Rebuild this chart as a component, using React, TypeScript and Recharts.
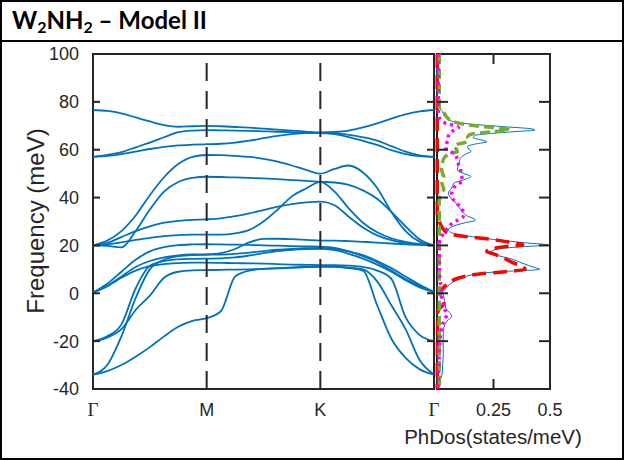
import React from 'react';
import { LineChart, Line, XAxis, YAxis, ReferenceLine, ReferenceArea } from 'recharts';

// ---------- band structure (k path Γ-M-K-Γ) ----------
const kPath = [0, 0.125, 0.25, 0.375, 0.5, 0.625, 0.75, 0.875, 1, 1.125, 1.25, 1.375, 1.5, 1.625, 1.75, 1.875, 2, 2.125, 2.25, 2.375, 2.5, 2.625, 2.75, 2.875, 3];
const kTicks = [0, 1, 2, 3];
const kLabels = ['Γ', 'M', 'K', 'Γ'];
const freqTicks = [-40, -20, 0, 20, 40, 60, 80, 100];

const bandA = [76.6, 76.2, 75.2, 73.5, 71.8, 70.3, 69.6, 69.8, 70.0, 69.8, 69.5, 69.2, 68.8, 68.4, 68.0, 67.6, 67.2, 67.4, 68.0, 69.3, 71.0, 73.0, 74.8, 76.0, 76.6];
const bandB = [57.0, 57.8, 59.0, 61.0, 63.0, 65.2, 67.3, 68.0, 68.2, 68.1, 68.0, 67.9, 67.7, 67.5, 67.3, 67.1, 66.9, 66.8, 66.2, 65.2, 63.8, 61.5, 59.2, 57.6, 57.0];
const bandC = [57.0, 57.4, 58.2, 59.2, 60.3, 61.2, 61.8, 62.1, 62.3, 62.5, 63.0, 63.8, 64.8, 65.8, 66.5, 66.9, 67.0, 66.5, 65.3, 63.7, 62.0, 59.8, 58.2, 57.3, 57.0];
const bandD = [20, 22, 26, 32.5, 41, 48.5, 54, 57, 57.8, 57.7, 57.4, 57.0, 56.2, 55.0, 53.4, 51.6, 50.0, 52.0, 53.4, 50.5, 44.0, 34.0, 26.0, 21.5, 20.0];
const bandE = [20, 19.8, 19.2, 26, 35, 42.5, 46.5, 48.2, 48.7, 48.6, 48.4, 48.2, 48.0, 47.7, 47.3, 47.0, 46.6, 46.3, 45.3, 43.0, 39.5, 34.0, 28.0, 22.5, 20.0];
const bandH = [20, 21, 23.5, 26, 28, 29.5, 30.3, 30.7, 30.9, 31.3, 32.2, 33.4, 34.8, 36.2, 37.3, 38.0, 38.3, 36.8, 32.0, 27.5, 24.2, 22.2, 21.0, 20.3, 20.0];
const bandI = [20, 20.4, 21.3, 22.3, 23.2, 23.9, 24.3, 24.5, 24.5, 24.5, 25.0, 26.5, 30.0, 35.0, 40.5, 43.8, 46.6, 42.5, 35.5, 29.5, 25.5, 23.0, 21.5, 20.5, 20.0];
const bandJ = [0.3, 4, 9, 14, 17.5, 19.3, 20.1, 20.4, 20.5, 20.4, 20.3, 20.2, 20.0, 19.9, 19.7, 19.6, 19.5, 19.0, 17.5, 15.5, 13.0, 9.5, 6.0, 3.0, 0.5];
const bandK = [0.3, 3, 7, 11, 13.5, 15, 15.8, 16.2, 16.3, 16.8, 18.5, 21.3, 22.7, 22.8, 22.6, 22.3, 22.0, 22.0, 21.8, 21.5, 21.2, 20.8, 20.5, 20.2, 20.0];
const bandL = [-20, -18, -13, 2, 11.5, 13.5, 14.2, 14.4, 14.5, 14.6, 15.0, 15.8, 16.8, 17.6, 18.2, 18.5, 18.6, 18.0, 16.5, 14.5, 12.0, 9.0, 5.5, 2.5, 0.5];
const bandM = [0.3, 3, 6.5, 9.5, 11.3, 12.2, 12.6, 12.8, 12.8, 12.7, 12.6, 12.5, 12.4, 12.2, 12.0, 11.9, 11.8, 11.8, 11.6, 11.0, 9.5, 6.0, -10.0, -17.5, -20.0];
const bandN = [-20, -18.5, -15, -7, -1, 6.5, 9, 9.6, 9.7, 9.8, 9.9, 10.0, 10.2, 10.4, 10.6, 10.9, 11.1, 11.0, 10.7, 10.0, 5.0, -5.0, -15.0, -28.0, -34.0];
const bandO = [-34, -32.5, -30, -26.5, -22.5, -18, -14, -11.5, -10.4, -7.5, 7.0, 9.5, 10.2, 10.5, 10.8, 11.1, 11.3, 11.2, 10.5, 9.5, -5.0, -19.0, -27.0, -31.8, -34.0];
const bandP = [-34, -30, -18, -2, 10, 14, 15.5, 16, 16.1, 16.2, 16.5, 17, 17.6, 18.2, 18.6, 18.9, 19.0, 18.6, 17.5, 16.0, 13.5, 10.5, 7.0, 3.5, 0.5];

const branches = [bandA, bandB, bandC, bandD, bandE, bandH, bandI, bandJ, bandK, bandL, bandM, bandN, bandO, bandP];

// ---------- phonon DOS: [frequency, states/meV] ----------
const dosTicks = [0.25, 0.5];
const dosLabels = ['0.25', '0.5'];

const dosTotal = [[100, 0], [80, 0], [78.5, 0.002], [77, 0.014], [76, 0.024], [74.5, 0.03], [73, 0.045], [71.7, 0.075], [70.6, 0.16], [69.6, 0.3], [68.7, 0.42], [68.2, 0.433], [67.6, 0.35], [66.8, 0.24], [66, 0.17], [65, 0.16], [64, 0.2], [63.3, 0.22], [62.4, 0.17], [61.4, 0.135], [60.3, 0.14], [59.3, 0.15], [58.3, 0.13], [57.2, 0.11], [55.5, 0.1], [53.5, 0.095], [51.5, 0.09], [50, 0.12], [48.8, 0.15], [47.5, 0.12], [46, 0.075], [44, 0.065], [41.8, 0.05], [39.5, 0.065], [37.6, 0.085], [35, 0.105], [32.5, 0.13], [30.6, 0.17], [29.4, 0.12], [28, 0.07], [26.5, 0.05], [25.5, 0.06], [24, 0.13], [22.5, 0.25], [21, 0.4], [20.2, 0.49], [19.3, 0.35], [18.3, 0.26], [17.3, 0.24], [16, 0.26], [14.6, 0.32], [12.5, 0.38], [10.8, 0.43], [10, 0.455], [9, 0.27], [7.8, 0.16], [6, 0.1], [4, 0.06], [2, 0.04], [0.5, 0.025], [-1.5, 0.03], [-4, 0.035], [-6.5, 0.04], [-8.5, 0.06], [-9.8, 0.065], [-11, 0.05], [-13, 0.035], [-16, 0.028], [-20, 0.027], [-25, 0.028], [-30, 0.025], [-34, 0.022], [-36.5, 0.012], [-38, 0.003], [-40, 0]];

const dosGreen = [[100, 0.01], [78, 0.01], [77, 0.014], [75.5, 0.03], [73.5, 0.045], [72, 0.065], [70.5, 0.13], [69.5, 0.22], [68.8, 0.3], [68.3, 0.32], [67.6, 0.25], [66.8, 0.17], [66, 0.14], [65, 0.135], [64, 0.14], [63.2, 0.13], [62.3, 0.09], [61.3, 0.075], [60.3, 0.085], [59.3, 0.09], [58.3, 0.06], [57, 0.035], [55, 0.025], [52, 0.02], [50, 0.025], [48.5, 0.03], [47, 0.02], [45, 0.025], [43.5, 0.03], [42, 0.02], [40, 0.012], [38, 0.01], [-40, 0.01]];

const dosRed = [[100, 0.001], [33, 0.001], [31, 0.006], [29.5, 0.012], [28, 0.02], [26.5, 0.03], [25, 0.05], [24, 0.1], [23, 0.2], [22, 0.28], [21, 0.34], [20.3, 0.38], [19.5, 0.3], [18.5, 0.24], [17.5, 0.22], [16.5, 0.25], [15, 0.29], [13, 0.33], [11.5, 0.37], [10, 0.39], [9, 0.3], [8, 0.18], [6.5, 0.1], [5, 0.06], [3, 0.035], [1.5, 0.02], [0.5, 0.012], [-1.5, 0.02], [-3, 0.03], [-4.5, 0.03], [-6, 0.015], [-8, 0.003], [-40, 0.001]];

const dosMagenta = [[100, 0.006], [76, 0.006], [73, 0.012], [71, 0.04], [70, 0.08], [69.2, 0.095], [68.5, 0.08], [67, 0.06], [65.5, 0.05], [64, 0.05], [62.5, 0.04], [61, 0.035], [59.5, 0.055], [58, 0.08], [56, 0.09], [54, 0.095], [52, 0.105], [50, 0.105], [48.5, 0.11], [47, 0.115], [45.5, 0.09], [43.5, 0.07], [41.5, 0.065], [39.5, 0.07], [37.5, 0.09], [35.5, 0.105], [33.5, 0.12], [32, 0.115], [30.5, 0.09], [29, 0.065], [27.5, 0.05], [26, 0.035], [24.5, 0.025], [23, 0.015], [20, 0.01], [15, 0.01], [10, 0.011], [6, 0.013], [3, 0.017], [0, 0.02], [-3, 0.02], [-5, 0.03], [-7, 0.035], [-9, 0.045], [-10.5, 0.035], [-13, 0.025], [-18, 0.015], [-25, 0.01], [-40, 0.006]];

// ---------- styles ----------
const AXIS = '#262626';
const BLUE = '#0072BD';
const GREEN = '#77AC30';
const RED = '#FF0000';
const MAGENTA = '#FF00FF';
const SANS = '"Liberation Sans", Arial, sans-serif';
const SERIF = '"Liberation Serif", "Times New Roman", serif';
const PLOT_TOP = 54;
const PLOT_BOTTOM = 389;
const BAND_W = 341;
const DOS_W = 113;
const PLOT_H = PLOT_BOTTOM - PLOT_TOP;

const bandData = kPath.map((k, i) => {
  const row: any = { k };
  branches.forEach((b, j) => { row['b' + j] = b[i]; });
  return row;
});
const toRows = (pts: number[][]) => pts.map(([f, d]) => ({ f, d }));

function BandYTick(props: any) {
  const { x, y, payload } = props;
  const v = payload.value;
  const inner = v > -40 && v < 100;
  return (
    <g>
      <text x={x - 14} y={y} dy="0.36em" textAnchor="end" fontFamily={SANS} fontSize={18} fill={AXIS}>{v}</text>
      {inner && <line x1={x} x2={x + 7} y1={y} y2={y} stroke={AXIS} strokeWidth={2} />}
      {inner && <line x1={x + BAND_W - 7} x2={x + BAND_W} y1={y} y2={y} stroke={AXIS} strokeWidth={2} />}
    </g>
  );
}

function BandXTick(props: any) {
  const { x, y, payload } = props;
  const label = kLabels[kTicks.indexOf(payload.value)];
  const serif = label === 'Γ';
  return (
    <text x={x} y={y + 27} textAnchor="middle" fontFamily={serif ? SERIF : SANS} fontSize={serif ? 19 : 18} fill={AXIS}>{label}</text>
  );
}

function DosYTick(props: any) {
  const { x, y, payload } = props;
  const v = payload.value;
  if (!(v > -40 && v < 100)) return <g />;
  return (
    <g>
      <line x1={x} x2={x + 11} y1={y} y2={y} stroke={AXIS} strokeWidth={2} />
      <line x1={x + DOS_W - 11} x2={x + DOS_W} y1={y} y2={y} stroke={AXIS} strokeWidth={2} />
    </g>
  );
}

function DosXTick(props: any) {
  const { x, y, payload } = props;
  const v = payload.value;
  const inner = v < 0.5;
  return (
    <g>
      <text x={x} y={y + 27} textAnchor="middle" fontFamily={SANS} fontSize={18} fill={AXIS}>{dosLabels[dosTicks.indexOf(v)]}</text>
      {inner && <line x1={x} x2={x} y1={y} y2={y - 10} stroke={AXIS} strokeWidth={2} />}
      {inner && <line x1={x} x2={x} y1={y - PLOT_H} y2={y - PLOT_H + 10} stroke={AXIS} strokeWidth={2} />}
    </g>
  );
}

export default function App() {
  return (
    <div style={{ position: 'absolute', left: 0, top: 0, width: 624, height: 460, background: '#fff' }}>
      <div style={{ position: 'absolute', left: 0, top: 0 }}>
        <LineChart width={624} height={460} data={bandData} margin={{ top: PLOT_TOP, right: 190, bottom: 41, left: 33 }}>
          <XAxis dataKey="k" type="number" domain={[0, 3]} ticks={kTicks} interval={0} tickSize={0} tickMargin={0} axisLine={false} tick={<BandXTick />} height={30} />
          <YAxis type="number" domain={[-40, 100]} ticks={freqTicks} interval={0} tickSize={0} tickMargin={0} axisLine={false} tick={<BandYTick />} width={60} />
          {branches.map((_, j) => (
            <Line key={j} dataKey={'b' + j} type="monotone" stroke={BLUE} strokeWidth={1.8} dot={false} isAnimationActive={false} />
          ))}
          <ReferenceLine x={1} stroke={AXIS} strokeWidth={2} strokeDasharray="18 10" />
          <ReferenceLine x={2} stroke={AXIS} strokeWidth={2} strokeDasharray="18 10" />
          <ReferenceArea x1={0} x2={3} y1={-40} y2={100} fill="none" fillOpacity={0} stroke={AXIS} strokeWidth={2} />
        </LineChart>
      </div>
      <div style={{ position: 'absolute', left: 0, top: 0 }}>
        <LineChart width={624} height={460} layout="vertical" margin={{ top: PLOT_TOP, right: 74, bottom: 41, left: 436 }}>
          <XAxis type="number" domain={[0, 0.5]} ticks={dosTicks} interval={0} tickSize={0} tickMargin={0} axisLine={false} tick={<DosXTick />} height={30} />
          <YAxis type="number" dataKey="f" domain={[-40, 100]} reversed ticks={freqTicks} interval={0} tickSize={0} tickMargin={0} axisLine={false} tick={<DosYTick />} width={1} />
          <Line data={toRows(dosTotal)} dataKey="d" type="monotoneY" stroke={BLUE} strokeWidth={1} dot={false} isAnimationActive={false} />
          <Line data={toRows(dosRed)} dataKey="d" type="monotoneY" stroke={RED} strokeWidth={3.5} strokeDasharray="14 7" dot={false} isAnimationActive={false} />
          <Line data={toRows(dosGreen)} dataKey="d" type="monotoneY" stroke={GREEN} strokeWidth={3.5} strokeDasharray="10 5" dot={false} isAnimationActive={false} />
          <Line data={toRows(dosMagenta)} dataKey="d" type="monotoneY" stroke={MAGENTA} strokeWidth={3.5} strokeDasharray="3 4" dot={false} isAnimationActive={false} />
          <ReferenceArea x1={0} x2={0.5} y1={-40} y2={100} fill="none" fillOpacity={0} stroke={AXIS} strokeWidth={2} />
        </LineChart>
      </div>
      <svg width={624} height={460} style={{ position: 'absolute', left: 0, top: 0, pointerEvents: 'none' }}>
        <rect x={1} y={1} width={622} height={458} fill="none" stroke="#000" strokeWidth={2} />
        <line x1={0} x2={624} y1={41} y2={41} stroke="#000" strokeWidth={2} />
        <text x={12} y={29} fontFamily="Lato, 'Open Sans', sans-serif" fontWeight={700} fontSize={24} fill="#000">
          W<tspan fontSize={16} dy={4}>2</tspan><tspan dy={-4}>NH</tspan><tspan fontSize={16} dy={4}>2</tspan><tspan dy={-4}> – Model II</tspan>
        </text>
        <text transform="translate(35,221) rotate(-90)" textAnchor="middle" dominantBaseline="central" fontFamily={SANS} fontSize={24} fill={AXIS}>Frequency (meV)</text>
        <text x={493} y={444} textAnchor="middle" fontFamily={SANS} fontSize={20.5} fill={AXIS}>PhDos(states/meV)</text>
      </svg>
    </div>
  );
}
